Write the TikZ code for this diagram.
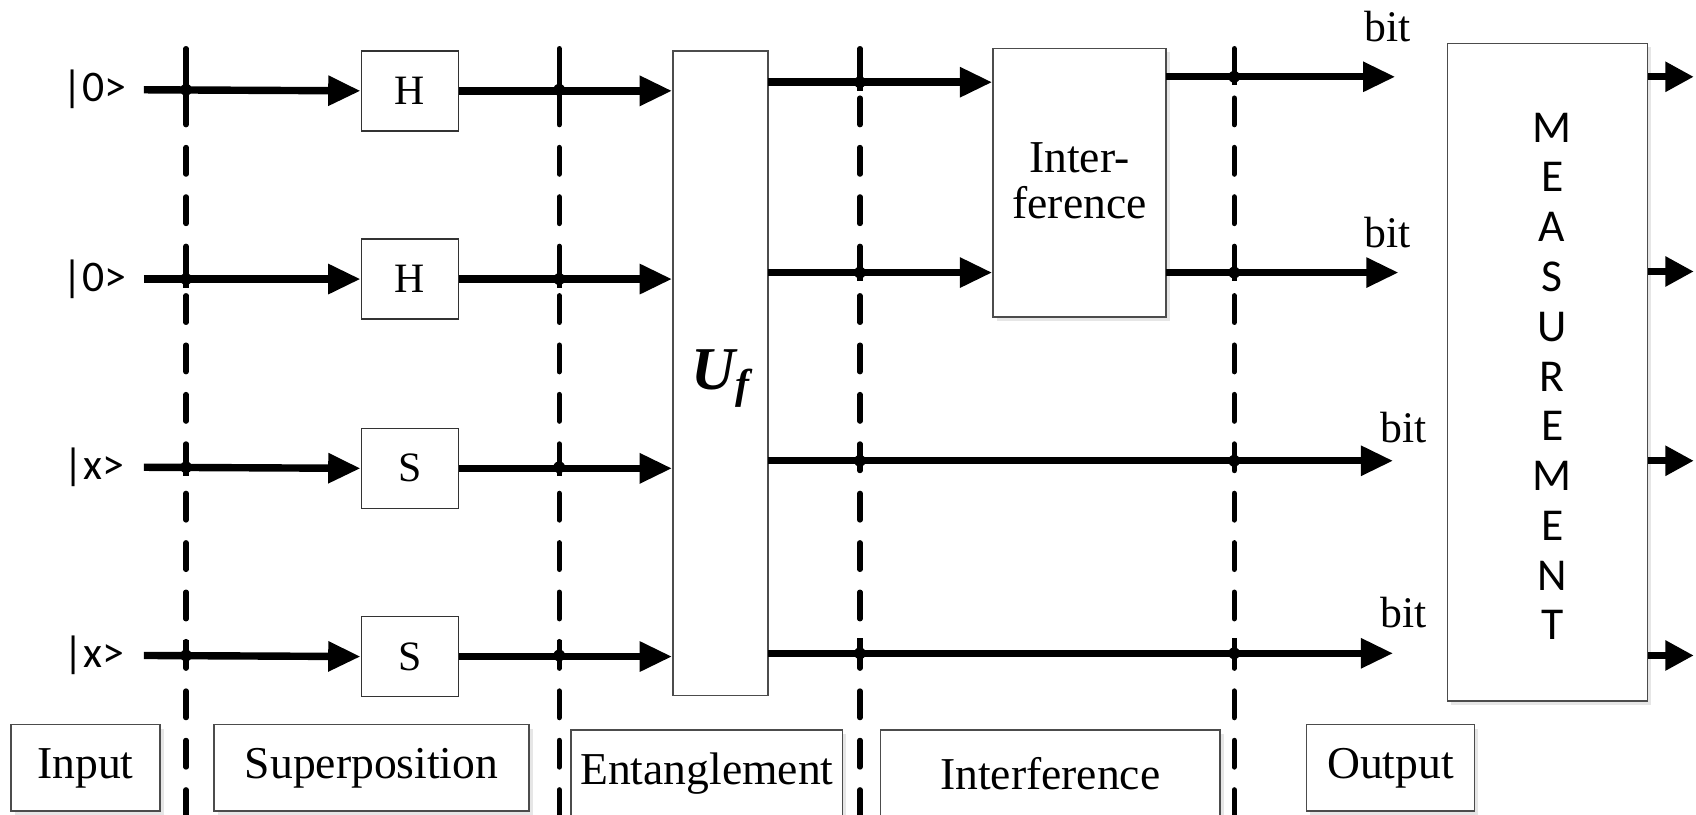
\documentclass[tikz,border=0pt]{standalone}
\usepackage{fontspec}
\setmainfont{Liberation Serif}
\newfontfamily\calib{Carlito}
\usetikzlibrary{arrows.meta,shadows}
\begin{document}
\begin{tikzpicture}[x=0.02cm,y=-0.02cm,
  wire/.style={line width=3.9pt},
  arr/.style={wire,-{Triangle[length=17pt,width=15pt]}},
  divider/.style={line width=2.8pt,dash pattern=on 14pt off 12pt,line cap=round},
  gatebox/.style={draw=black!80,line width=0.8pt,minimum width=1.8cm,minimum height=1.48cm,inner sep=0pt,font=\fontsize{22}{24}\selectfont},
  bigbox/.style={draw=black!70,line width=0.8pt,inner sep=0pt,fill=white},
  stagebox/.style={draw=black!70,line width=0.8pt,inner sep=0pt,minimum height=1.6cm,fill=white,
     drop shadow={opacity=0.2,shadow xshift=2pt,shadow yshift=-2pt},font=\fontsize{24}{26}\selectfont},
  ket/.style={font=\calib\fontsize{23}{26}\selectfont,inner sep=0pt},
  bitlbl/.style={font=\fontsize{23}{26}\selectfont,inner sep=0pt},
  jn/.style={fill=black}
]
\useasboundingbox (0,0) rectangle (1568,753);

% dividers
\coordinate (dv1t) at (172,45); \coordinate (dv1b) at (172,760);
\coordinate (dv2t) at (517,45); \coordinate (dv2b) at (517,760);
\coordinate (dv3t) at (795,45); \coordinate (dv3b) at (795,760);
\coordinate (dv4t) at (1141,45); \coordinate (dv4b) at (1141,760);
\foreach \d in {dv1,dv2,dv3,dv4} \draw[divider] (\d t) -- (\d b);

% kets
\node[ket] (k1) at (87,83) {|0>};
\node[ket] (k2) at (87,258) {|0>};
\node[ket] (k3) at (87,432) {|x>};
\node[ket] (k4) at (87,606) {|x>};
\coordinate (s1) at (133,83);
\coordinate (s2) at (133,258);
\coordinate (s3) at (133,432);
\coordinate (s4) at (133,606);

% gates
\node[gatebox] (g1) at (379,84) {H};
\node[gatebox] (g2) at (379,258) {H};
\node[gatebox] (g3) at (379,433) {S};
\node[gatebox] (g4) at (379,607) {S};

% Uf
\node[bigbox,minimum width=1.76cm,minimum height=11.92cm] (uf) at (666,345) {};
\node[inner sep=0pt] (uflbl) at (666,350) {\fontsize{32}{32}\selectfont\bfseries\itshape U\raisebox{-0.35ex}{\fontsize{22}{22}\selectfont f}};

% Interference block
\node[bigbox,minimum width=3.2cm,minimum height=4.96cm,
      drop shadow={opacity=0.2,shadow xshift=2pt,shadow yshift=-2pt}] (intf) at (998,169) {};
\node[align=center,inner sep=0pt,font=\fontsize{24}{24.5}\selectfont] (intflbl) at (998,167) {Inter-\\ference};

% Measurement block
\node[bigbox,minimum width=3.7cm,minimum height=12.16cm,
      drop shadow={opacity=0.2,shadow xshift=2pt,shadow yshift=-2pt}] (meas) at (1430.5,344) {};
\node[align=center,inner sep=0pt,font=\calib\fontsize{24}{26.2}\selectfont] (measlbl) at (1435,348)
  {M\\E\\A\\S\\U\\R\\E\\M\\E\\N\\T};

% input wires
\foreach \i in {1,2,3,4} \draw[arr] (s\i) -- (g\i.west);
\foreach \i in {1,2,3,4} \draw[arr] (g\i.east) -- (g\i.east -| uf.west);

% Uf outputs
\coordinate (o1) at (710,76);
\coordinate (o2) at (710,252);
\coordinate (o3) at (710,426);
\coordinate (o4) at (710,604);
\draw[arr] (o1) -- (o1 -| intf.west);
\draw[arr] (o2) -- (o2 -| intf.west);
\coordinate (p1) at (1078,71);
\coordinate (p2) at (1078,252);
\coordinate (e1) at (1290,71);
\coordinate (e2) at (1293,252);
\coordinate (e3) at (1288,426);
\coordinate (e4) at (1288,604);
\draw[arr] (p1) -- (e1);
\draw[arr] (p2) -- (e2);
\draw[arr] (o3) -- (e3);
\draw[arr] (o4) -- (e4);

% bit labels
\node[bitlbl] (b1) at (1283,25) {bit};
\node[bitlbl] (b2) at (1283,215) {bit};
\node[bitlbl] (b3) at (1298,395) {bit};
\node[bitlbl] (b4) at (1298,566) {bit};

% measurement outputs
\coordinate (m1) at (1566,71);
\coordinate (m2) at (1566,251);
\coordinate (m3) at (1566,426);
\coordinate (m4) at (1566,606);
\foreach \i in {1,2,3,4}
  \draw[line width=3.9pt,-{Triangle[length=15pt,width=15pt]}] (meas.east |- m\i) -- (m\i);

% junctions
\foreach \x/\y in {172/83,172/258,172/432,172/606,517/83,517/258,517/432,517/606,
                   795/76,795/252,795/426,795/604,1141/71,1141/252,1141/426,1141/604}{
  \draw[line width=2.8pt] (\x,\y-14) -- (\x,\y+8);
  \fill[jn] (\x,\y) circle (5.5);
}

% stage boxes
\node[stagebox,minimum width=2.76cm] (inp) at (79,710) {Input};
\node[stagebox,minimum width=5.82cm] (sup) at (343.5,710) {Superposition};
\node[stagebox,minimum width=5.02cm] (ent) at (653.5,715) {Entanglement};
\node[stagebox,minimum width=6.28cm] (itf) at (971,715) {Interference};
\node[stagebox,minimum width=3.1cm] (out) at (1285.5,710) {Output};
\end{tikzpicture}
\end{document}
